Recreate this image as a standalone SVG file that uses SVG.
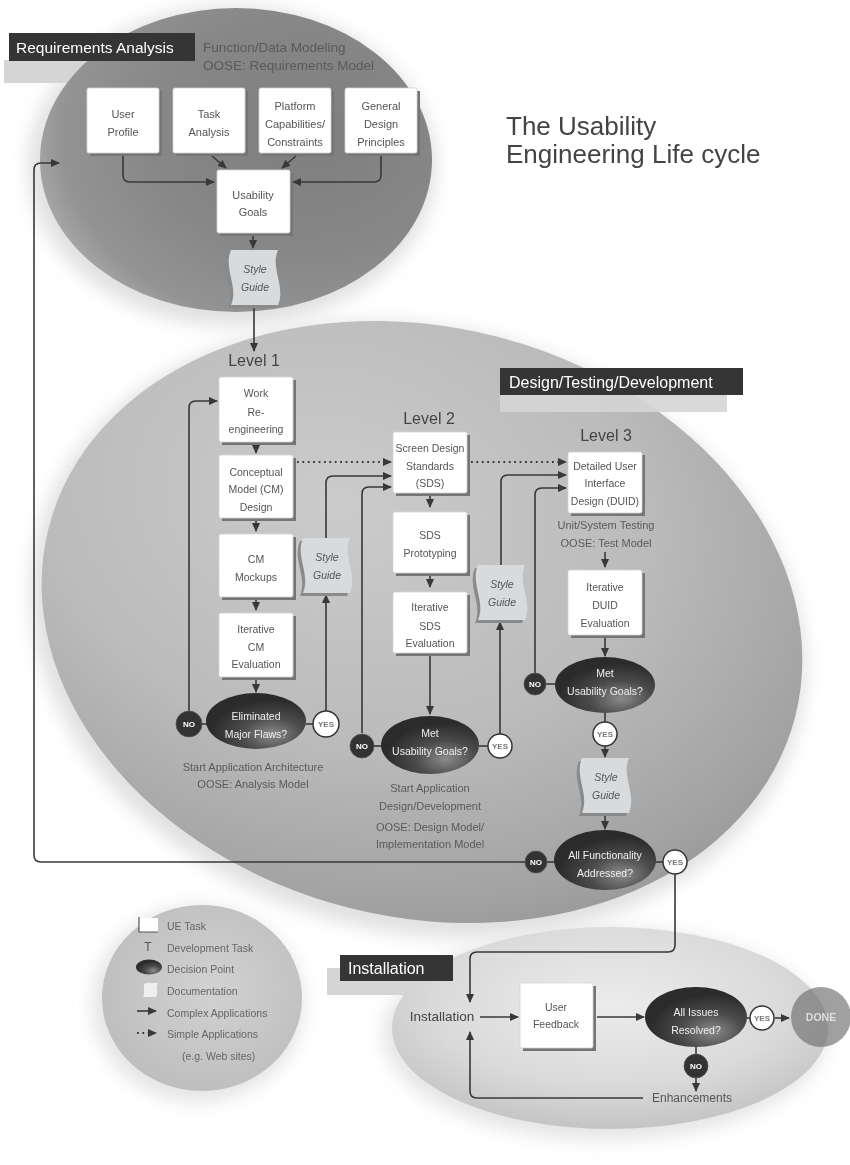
<svg xmlns="http://www.w3.org/2000/svg" width="850" height="1165" viewBox="0 0 850 1165">
  <defs>
    <style>
      text { font-family: "Liberation Sans", Arial, sans-serif; }
      .box { fill: #ffffff; stroke: #d4d4d4; stroke-width: 0.8; }
      .bsh { fill: #757575; }
      .bt { font-size: 10.5px; fill: #555; text-anchor: middle; }
      .bt11 { font-size: 11px; fill: #555; text-anchor: middle; }
      .dec { fill: url(#gDec); }
      .dt { font-size: 10.5px; fill: #eeeeee; text-anchor: middle; }
      .no { fill: #333333; stroke: #555; stroke-width: 0.8; }
      .not { font-size: 8px; font-weight: bold; fill: #ffffff; text-anchor: middle; }
      .yes { fill: #ffffff; stroke: #333333; stroke-width: 1.5; }
      .yest { font-size: 8px; font-weight: bold; fill: #777; text-anchor: middle; }
      .sg { fill: #d7dbde; }
      .sgs { fill: #8a8a8a; }
      .sgt { font-size: 10.5px; font-style: italic; fill: #555; text-anchor: middle; }
      .ln { fill: none; stroke: #383838; stroke-width: 1.6; }
      .dot { fill: none; stroke: #383838; stroke-width: 1.8; stroke-dasharray: 1.8 3.6; }
      .ann { font-size: 11px; fill: #5a5a5a; text-anchor: middle; }
      .lvl { font-size: 16px; fill: #444; text-anchor: middle; }
      .lab { fill: #353535; }
      .labt { fill: #ffffff; }
      .band { fill: #d5d5d5; }
      .leg { font-size: 10.5px; fill: #666; }
    </style>
    <marker id="arr" markerUnits="userSpaceOnUse" markerWidth="9" markerHeight="8" refX="8" refY="4" orient="auto">
      <path d="M0,0 L9,4 L0,8 z" fill="#383838"/>
    </marker>
    <radialGradient id="gTop" cx="0.68" cy="0.42" r="0.78">
      <stop offset="0" stop-color="#7e7e7e"/>
      <stop offset="0.5" stop-color="#878787"/>
      <stop offset="0.8" stop-color="#939393"/>
      <stop offset="1" stop-color="#b9b9b9"/>
    </radialGradient>
    <radialGradient id="gBig" cx="0.36" cy="0.34" r="0.8">
      <stop offset="0" stop-color="#cbcbcb"/>
      <stop offset="0.5" stop-color="#bbbbbb"/>
      <stop offset="0.82" stop-color="#a3a3a3"/>
      <stop offset="1" stop-color="#8f8f8f"/>
    </radialGradient>
    <radialGradient id="gInst" cx="0.5" cy="0.38" r="0.62">
      <stop offset="0" stop-color="#ececec"/>
      <stop offset="0.65" stop-color="#dadada"/>
      <stop offset="1" stop-color="#c4c4c4"/>
    </radialGradient>
    <radialGradient id="gLeg" cx="0.55" cy="0.45" r="0.6">
      <stop offset="0" stop-color="#d2d2d2"/>
      <stop offset="1" stop-color="#bdbdbd"/>
    </radialGradient>
    <radialGradient id="gDec" cx="0.66" cy="0.74" r="0.62">
      <stop offset="0" stop-color="#8a8a8a"/>
      <stop offset="0.5" stop-color="#4b4b4b"/>
      <stop offset="1" stop-color="#2b2b2b"/>
    </radialGradient>
    <filter id="soft" x="-20%" y="-20%" width="140%" height="140%">
      <feGaussianBlur stdDeviation="9"/>
    </filter>
    <!-- wavy document (style guide) outline, 53 x 55 -->
    <path id="doc" d="M3,0 H50 C42,18 58,37 50,55 H3 C11,37 -5,18 3,0 Z"/>
  </defs>

  <rect x="0" y="0" width="850" height="1165" fill="#ffffff"/>

  <!-- soft halos behind the phase ellipses -->
  <g id="halos" opacity="0.55">
    <ellipse cx="232" cy="166" rx="204" ry="160" fill="#c8c8c8" filter="url(#soft)"/>
    <ellipse cx="418" cy="630" rx="392" ry="302" transform="rotate(14 418 630)" fill="#c8c8c8" filter="url(#soft)"/>
    <ellipse cx="605" cy="1034" rx="222" ry="106" fill="#cfcfcf" filter="url(#soft)"/>
    <ellipse cx="198" cy="1004" rx="106" ry="98" fill="#cfcfcf" filter="url(#soft)"/>
  </g>

  <!-- phase: requirements analysis -->
  <g id="phase-requirements">
    <rect class="band" x="4" y="60" width="228" height="23"/>
    <ellipse cx="236" cy="160" rx="196" ry="152" fill="url(#gTop)"/>
    <rect class="lab" x="9" y="33" width="186" height="28"/>
    <text class="labt" x="16" y="53" font-size="15.5">Requirements Analysis</text>
    <text x="203" y="52" font-size="13.5" fill="#5a5a5a">Function/Data Modeling</text>
    <text x="203" y="70" font-size="13.5" fill="#5a5a5a">OOSE: Requirements Model</text>
  </g>

  <!-- phase: design / testing / development -->
  <g id="phase-design">
    <ellipse cx="422" cy="622" rx="385" ry="295" transform="rotate(14 422 622)" fill="url(#gBig)"/>
    <rect class="band" x="500" y="392" width="227" height="20" opacity="0.9"/>
    <rect class="lab" x="500" y="368" width="243" height="27"/>
    <text class="labt" x="509" y="388" font-size="16">Design/Testing/Development</text>
  </g>

  <!-- phase: installation -->
  <g id="phase-installation">
    <rect class="band" x="327" y="968" width="120" height="27"/>
    <ellipse cx="610" cy="1028" rx="218" ry="101" fill="url(#gInst)"/>
    <rect class="lab" x="340" y="955" width="113" height="26"/>
    <text class="labt" x="348" y="974" font-size="16">Installation</text>
  </g>

  <!-- title -->
  <g id="title" font-size="26" fill="#444">
    <text x="506" y="135">The Usability</text>
    <text x="506" y="163">Engineering Life cycle</text>
  </g>

  <!-- connectors -->
  <g id="connectors">
    <path class="ln" d="M123,156 V175 Q123,182 130,182 H214" marker-end="url(#arr)"/>
    <path class="ln" d="M212,156 L226,168" marker-end="url(#arr)"/>
    <path class="ln" d="M296,156 L282,168" marker-end="url(#arr)"/>
    <path class="ln" d="M381,156 V175 Q381,182 374,182 H293" marker-end="url(#arr)"/>
    <path class="ln" d="M253,235 V248" marker-end="url(#arr)"/>
    <path class="ln" d="M254,304 V351" marker-end="url(#arr)"/>

    <path class="ln" d="M256,443 V453" marker-end="url(#arr)"/>
    <path class="ln" d="M256,519 V531" marker-end="url(#arr)"/>
    <path class="ln" d="M256,598 V610" marker-end="url(#arr)"/>
    <path class="ln" d="M256,678 V692" marker-end="url(#arr)"/>
    <path class="ln" d="M202,724 H207"/>
    <path class="ln" d="M306,724 H313"/>
    <path class="ln" d="M189,711 V408 Q189,401 196,401 H217" marker-end="url(#arr)"/>
    <path class="ln" d="M326,711 V595" marker-end="url(#arr)"/>
    <path class="ln" d="M326,538 V483 Q326,476 333,476 H391" marker-end="url(#arr)"/>
    <path class="dot" d="M297,462 H391" marker-end="url(#arr)"/>
    <path class="ln" d="M362,733 V494 Q362,487 369,487 H391" marker-end="url(#arr)"/>

    <path class="ln" d="M430,494 V507" marker-end="url(#arr)"/>
    <path class="ln" d="M430,574 V587" marker-end="url(#arr)"/>
    <path class="ln" d="M430,654 V714" marker-end="url(#arr)"/>
    <path class="ln" d="M374,746 H382"/>
    <path class="ln" d="M479,746 H488"/>
    <path class="ln" d="M500,734 V622" marker-end="url(#arr)"/>
    <path class="ln" d="M501,565 V482 Q501,475 508,475 H566" marker-end="url(#arr)"/>
    <path class="dot" d="M471,462 H566" marker-end="url(#arr)"/>
    <path class="ln" d="M535,673 V495 Q535,488 542,488 H566" marker-end="url(#arr)"/>

    <path class="ln" d="M605,552 V567" marker-end="url(#arr)"/>
    <path class="ln" d="M605,636 V656" marker-end="url(#arr)"/>
    <path class="ln" d="M546,684 H556"/>
    <path class="ln" d="M605,713 V722"/>
    <path class="ln" d="M605,746 V757" marker-end="url(#arr)"/>
    <path class="ln" d="M605,814 V829" marker-end="url(#arr)"/>
    <path class="ln" d="M547,862 H555"/>
    <path class="ln" d="M655,862 H663"/>
    <path class="ln" d="M525,862 H41 Q34,862 34,855 V170 Q34,163 41,163 H59" marker-end="url(#arr)"/>
    <path class="ln" d="M675,874 V945 Q675,952 668,952 H477 Q470,952 470,959 V1002" marker-end="url(#arr)"/>

    <path class="ln" d="M480,1017 H518" marker-end="url(#arr)"/>
    <path class="ln" d="M597,1017 H644" marker-end="url(#arr)"/>
    <path class="ln" d="M747,1018 H750"/>
    <path class="ln" d="M775,1018 H789" marker-end="url(#arr)"/>
    <path class="ln" d="M696,1047 V1054"/>
    <path class="ln" d="M696,1078 V1091" marker-end="url(#arr)"/>
    <path class="ln" d="M643,1098 H477 Q470,1098 470,1091 V1032" marker-end="url(#arr)"/>
  </g>

  <!-- requirements analysis nodes -->
  <g id="n-user-profile">
    <rect class="bsh" x="90" y="91" width="72" height="65"/>
    <rect class="box" x="87" y="88" width="72" height="65" rx="2"/>
    <text class="bt11" x="123" y="118">User</text>
    <text class="bt11" x="123" y="136">Profile</text>
  </g>
  <g id="n-task-analysis">
    <rect class="bsh" x="176" y="91" width="72" height="65"/>
    <rect class="box" x="173" y="88" width="72" height="65" rx="2"/>
    <text class="bt11" x="209" y="118">Task</text>
    <text class="bt11" x="209" y="136">Analysis</text>
  </g>
  <g id="n-platform">
    <rect class="bsh" x="262" y="91" width="72" height="65"/>
    <rect class="box" x="259" y="88" width="72" height="65" rx="2"/>
    <text class="bt11" x="295" y="110">Platform</text>
    <text class="bt11" x="295" y="128">Capabilities/</text>
    <text class="bt11" x="295" y="146">Constraints</text>
  </g>
  <g id="n-general-design">
    <rect class="bsh" x="348" y="91" width="72" height="65"/>
    <rect class="box" x="345" y="88" width="72" height="65" rx="2"/>
    <text class="bt11" x="381" y="110">General</text>
    <text class="bt11" x="381" y="128">Design</text>
    <text class="bt11" x="381" y="146">Principles</text>
  </g>
  <g id="n-usability-goals">
    <rect class="bsh" x="220" y="173" width="73" height="63"/>
    <rect class="box" x="217" y="170" width="73" height="63" rx="2"/>
    <text class="bt11" x="253" y="199">Usability</text>
    <text class="bt11" x="253" y="216">Goals</text>
  </g>
  <g id="n-style-guide-0" transform="translate(228,250)">
    <use href="#doc" class="sgs" x="-3" y="3"/>
    <use href="#doc" class="sg"/>
    <text class="sgt" x="27" y="23">Style</text>
    <text class="sgt" x="27" y="41">Guide</text>
  </g>

  <!-- level 1 -->
  <text id="n-level-1" class="lvl" x="254" y="366">Level 1</text>
  <g id="n-work-reengineering">
    <rect class="bsh" x="222" y="380" width="74" height="65"/>
    <rect class="box" x="219" y="377" width="74" height="65" rx="2"/>
    <text class="bt" x="256" y="397">Work</text>
    <text class="bt" x="256" y="416">Re-</text>
    <text class="bt" x="256" y="433">engineering</text>
  </g>
  <g id="n-cm-design">
    <rect class="bsh" x="222" y="458" width="74" height="63"/>
    <rect class="box" x="219" y="455" width="74" height="63" rx="2"/>
    <text class="bt" x="256" y="476">Conceptual</text>
    <text class="bt" x="256" y="493">Model (CM)</text>
    <text class="bt" x="256" y="511">Design</text>
  </g>
  <g id="n-cm-mockups">
    <rect class="bsh" x="222" y="537" width="74" height="63"/>
    <rect class="box" x="219" y="534" width="74" height="63" rx="2"/>
    <text class="bt" x="256" y="563">CM</text>
    <text class="bt" x="256" y="581">Mockups</text>
  </g>
  <g id="n-cm-evaluation">
    <rect class="bsh" x="222" y="616" width="74" height="64"/>
    <rect class="box" x="219" y="613" width="74" height="64" rx="2"/>
    <text class="bt" x="256" y="633">Iterative</text>
    <text class="bt" x="256" y="651">CM</text>
    <text class="bt" x="256" y="668">Evaluation</text>
  </g>
  <g id="n-eliminated-flaws">
    <ellipse class="dec" cx="256" cy="721" rx="50" ry="28"/>
    <text class="dt" x="256" y="720">Eliminated</text>
    <text class="dt" x="256" y="738">Major Flaws?</text>
  </g>
  <g id="n-no-1">
    <circle class="no" cx="189" cy="724" r="13"/>
    <text class="not" x="189" y="727">NO</text>
  </g>
  <g id="n-yes-1">
    <circle class="yes" cx="326" cy="724" r="13"/>
    <text class="yest" x="326" y="727">YES</text>
  </g>
  <g id="n-style-guide-1" transform="translate(300,538)">
    <use href="#doc" class="sgs" x="-3" y="3"/>
    <use href="#doc" class="sg"/>
    <text class="sgt" x="27" y="23">Style</text>
    <text class="sgt" x="27" y="41">Guide</text>
  </g>
  <g id="n-note-architecture">
    <text class="ann" x="253" y="771">Start Application Architecture</text>
    <text class="ann" x="253" y="788">OOSE: Analysis Model</text>
  </g>

  <!-- level 2 -->
  <text id="n-level-2" class="lvl" x="429" y="424">Level 2</text>
  <g id="n-sds">
    <rect class="bsh" x="396" y="435" width="74" height="61"/>
    <rect class="box" x="393" y="432" width="74" height="61" rx="2"/>
    <text class="bt" x="430" y="452">Screen Design</text>
    <text class="bt" x="430" y="470">Standards</text>
    <text class="bt" x="430" y="487">(SDS)</text>
  </g>
  <g id="n-sds-prototyping">
    <rect class="bsh" x="396" y="515" width="74" height="61"/>
    <rect class="box" x="393" y="512" width="74" height="61" rx="2"/>
    <text class="bt" x="430" y="539">SDS</text>
    <text class="bt" x="430" y="557">Prototyping</text>
  </g>
  <g id="n-sds-evaluation">
    <rect class="bsh" x="396" y="595" width="74" height="61"/>
    <rect class="box" x="393" y="592" width="74" height="61" rx="2"/>
    <text class="bt" x="430" y="611">Iterative</text>
    <text class="bt" x="430" y="630">SDS</text>
    <text class="bt" x="430" y="647">Evaluation</text>
  </g>
  <g id="n-met-goals-2">
    <ellipse class="dec" cx="430" cy="745" rx="49" ry="29"/>
    <text class="dt" x="430" y="737">Met</text>
    <text class="dt" x="430" y="755">Usability Goals?</text>
  </g>
  <g id="n-no-2">
    <circle class="no" cx="362" cy="746" r="12"/>
    <text class="not" x="362" y="749">NO</text>
  </g>
  <g id="n-yes-2">
    <circle class="yes" cx="500" cy="746" r="12"/>
    <text class="yest" x="500" y="749">YES</text>
  </g>
  <g id="n-style-guide-2" transform="translate(475,565)">
    <use href="#doc" class="sgs" x="-3" y="3"/>
    <use href="#doc" class="sg"/>
    <text class="sgt" x="27" y="23">Style</text>
    <text class="sgt" x="27" y="41">Guide</text>
  </g>
  <g id="n-note-design">
    <text class="ann" x="430" y="792">Start Application</text>
    <text class="ann" x="430" y="810">Design/Development</text>
    <text class="ann" x="430" y="831">OOSE: Design Model/</text>
    <text class="ann" x="430" y="848">Implementation Model</text>
  </g>

  <!-- level 3 -->
  <text id="n-level-3" class="lvl" x="606" y="441">Level 3</text>
  <g id="n-duid">
    <rect class="bsh" x="571" y="455" width="74" height="61"/>
    <rect class="box" x="568" y="452" width="74" height="61" rx="2"/>
    <text class="bt" x="605" y="470">Detailed User</text>
    <text class="bt" x="605" y="487">Interface</text>
    <text class="bt" x="605" y="505">Design (DUID)</text>
  </g>
  <g id="n-note-testing">
    <text class="ann" x="606" y="529">Unit/System Testing</text>
    <text class="ann" x="606" y="547">OOSE: Test Model</text>
  </g>
  <g id="n-duid-evaluation">
    <rect class="bsh" x="571" y="573" width="74" height="65"/>
    <rect class="box" x="568" y="570" width="74" height="65" rx="2"/>
    <text class="bt" x="605" y="591">Iterative</text>
    <text class="bt" x="605" y="609">DUID</text>
    <text class="bt" x="605" y="627">Evaluation</text>
  </g>
  <g id="n-met-goals-3">
    <ellipse class="dec" cx="605" cy="685" rx="50" ry="28"/>
    <text class="dt" x="605" y="677">Met</text>
    <text class="dt" x="605" y="695">Usability Goals?</text>
  </g>
  <g id="n-no-3">
    <circle class="no" cx="535" cy="684" r="11"/>
    <text class="not" x="535" y="687">NO</text>
  </g>
  <g id="n-yes-3">
    <circle class="yes" cx="605" cy="734" r="12"/>
    <text class="yest" x="605" y="737">YES</text>
  </g>
  <g id="n-style-guide-3" transform="translate(579,758)">
    <use href="#doc" class="sgs" x="-3" y="3"/>
    <use href="#doc" class="sg"/>
    <text class="sgt" x="27" y="23">Style</text>
    <text class="sgt" x="27" y="41">Guide</text>
  </g>
  <g id="n-all-functionality">
    <ellipse class="dec" cx="605" cy="860" rx="51" ry="30"/>
    <text class="dt" x="605" y="859">All Functionality</text>
    <text class="dt" x="605" y="877">Addressed?</text>
  </g>
  <g id="n-no-4">
    <circle class="no" cx="536" cy="862" r="11"/>
    <text class="not" x="536" y="865">NO</text>
  </g>
  <g id="n-yes-4">
    <circle class="yes" cx="675" cy="862" r="12"/>
    <text class="yest" x="675" y="865">YES</text>
  </g>

  <!-- installation -->
  <text id="n-installation" x="442" y="1021" font-size="13.5" fill="#444" text-anchor="middle">Installation</text>
  <g id="n-user-feedback">
    <rect class="bsh" x="523" y="986" width="73" height="65"/>
    <rect class="box" x="520" y="983" width="73" height="65" rx="2"/>
    <text class="bt" x="556" y="1011">User</text>
    <text class="bt" x="556" y="1028">Feedback</text>
  </g>
  <g id="n-all-issues">
    <ellipse class="dec" cx="696" cy="1017" rx="51" ry="30"/>
    <text class="dt" x="696" y="1016">All Issues</text>
    <text class="dt" x="696" y="1034">Resolved?</text>
  </g>
  <g id="n-yes-5">
    <circle class="yes" cx="762" cy="1018" r="12"/>
    <text class="yest" x="762" y="1021">YES</text>
  </g>
  <g id="n-done">
    <circle cx="821" cy="1017" r="30" fill="#6e6e6e" opacity="0.65"/>
    <text x="821" y="1021" font-size="10.5" font-weight="bold" fill="#dddddd" text-anchor="middle">DONE</text>
  </g>
  <g id="n-no-5">
    <circle class="no" cx="696" cy="1066" r="12"/>
    <text class="not" x="696" y="1069">NO</text>
  </g>
  <text id="n-enhancements" x="692" y="1102" font-size="12" fill="#555" text-anchor="middle">Enhancements</text>

  <!-- legend -->
  <g id="legend">
    <ellipse cx="202" cy="998" rx="100" ry="93" fill="url(#gLeg)"/>
    <rect x="139" y="918" width="19" height="14" fill="#ffffff"/>
    <path d="M139,917 V932 H158" fill="none" stroke="#555" stroke-width="1.2"/>
    <text class="leg" x="167" y="930">UE Task</text>
    <text x="148" y="951" font-size="12" fill="#555" text-anchor="middle">T</text>
    <text class="leg" x="167" y="952">Development Task</text>
    <ellipse cx="149" cy="967" rx="13" ry="7.5" fill="url(#gDec)"/>
    <text class="leg" x="167" y="973">Decision Point</text>
    <path d="M145,983 H158 C155,989 159,992 156,997 H143 C146,992 142,988 145,983 Z" fill="#eeeeee"/>
    <text class="leg" x="167" y="995">Documentation</text>
    <path class="ln" d="M137,1011 H156" marker-end="url(#arr)"/>
    <text class="leg" x="167" y="1017">Complex Applications</text>
    <path class="dot" d="M137,1033 H156" marker-end="url(#arr)"/>
    <text class="leg" x="167" y="1038">Simple Applications</text>
    <text class="leg" x="182" y="1060">(e.g. Web sites)</text>
  </g>
</svg>
